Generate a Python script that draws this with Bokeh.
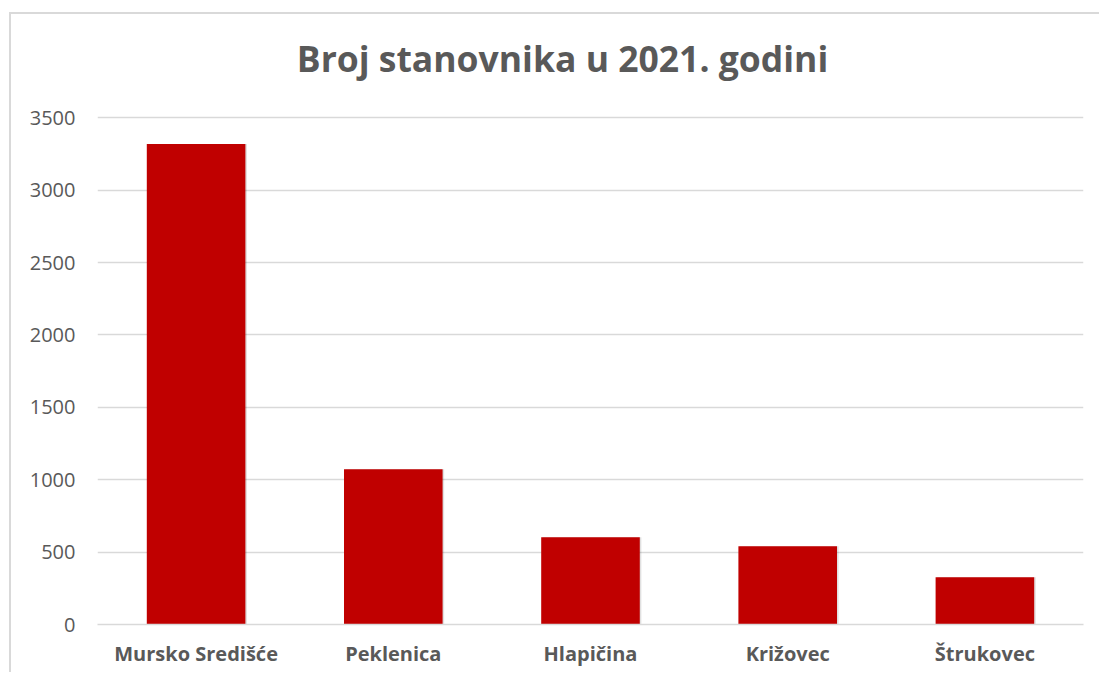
from bokeh.plotting import figure
from bokeh.models import ColumnDataSource, FactorRange, Range1d, FixedTicker, Label
from bokeh.transform import dodge
from bokeh.embed import file_html
from bokeh.resources import INLINE

categories = ["Mursko Središće", "Peklenica", "Hlapičina", "Križovec", "Štrukovec"]
population = [3320, 1072, 602, 540, 326]
y_ticks = [0, 500, 1000, 1500, 2000, 2500, 3000, 3500]
title_text = "Broj stanovnika u 2021. godini"

# pixel geometry of the plot area (frame): value 0 at 623 px, 3500 at 118 px, frame top at 20 px
px_per_unit = (623 - 118) / 3500
y_top = (623 - 20) / px_per_unit
title_y = (623 - 58) / px_per_unit

src = ColumnDataSource(dict(cat=categories, val=population))

p = figure(
    x_range=FactorRange(factors=categories),
    y_range=Range1d(0, y_top),
    width=1090, height=660,
    output_backend="svg", toolbar_location=None,
    min_border_left=86, min_border_right=18, min_border_top=5, min_border_bottom=50,
)
p.margin = (12, 0, 0, 9)
p.styles = {"border-left": "2px solid #d9d9d9", "border-top": "2px solid #d9d9d9"}

p.add_layout(Label(text=title_text, x=2.358, y=title_y,
                   text_font="Open Sans", text_font_size="35.5px", text_font_style="bold",
                   text_color="#595959", text_align="center", text_baseline="alphabetic"))

p.outline_line_color = None
p.background_fill_color = "white"
p.border_fill_color = "white"

# shadow
p.vbar(x=dodge("cat", 0.008, range=p.x_range), top="val", width=0.5, source=src,
       fill_color="black", fill_alpha=0.12, line_color=None)
p.vbar(x="cat", top="val", width=0.5, source=src,
       fill_color="#C00000", line_color=None)

p.yaxis.ticker = FixedTicker(ticks=y_ticks)
p.yaxis.axis_line_color = None
p.yaxis.major_tick_line_color = None
p.yaxis.minor_tick_line_color = None
p.yaxis.major_label_text_font = "Open Sans"
p.yaxis.major_label_text_font_size = "20px"
p.yaxis.major_label_text_color = "#595959"
p.yaxis.major_label_standoff = 16

p.xaxis.axis_line_color = "#d9d9d9"
p.xaxis.axis_line_width = 1.5
p.xaxis.major_tick_line_color = None
p.xaxis.minor_tick_line_color = None
p.xaxis.major_label_text_font = "Open Sans"
p.xaxis.major_label_text_font_size = "20px"
p.xaxis.major_label_text_font_style = "bold"
p.xaxis.major_label_text_color = "#595959"
p.xaxis.major_label_standoff = 9

p.xgrid.grid_line_color = None
p.ygrid.grid_line_color = "#d9d9d9"
p.ygrid.grid_line_width = 1.5

open("out.html", "w").write(file_html(p, INLINE))
